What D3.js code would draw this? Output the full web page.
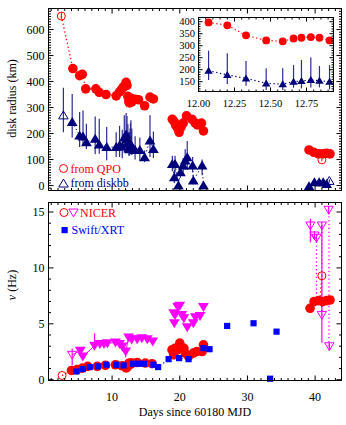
<!DOCTYPE html>
<html><head><meta charset="utf-8">
<script src="https://cdn.jsdelivr.net/npm/d3@7"></script>
<style>
body{margin:0;background:#fff}
svg{display:block}
text{font-family:"Liberation Serif","DejaVu Serif",serif}
</style>
</head><body>
<svg id="c" width="346" height="425"></svg>
<script>
// ---------------- DATA ----------------
// Top panel: disk radius from QPO (filled red circles)
const qpoDays   = [4.2,5.2,5.6,6.1,7.6,8.1,9.1,10.6,11.1,11.4,11.7,13.4,13.9,14.8,15.6,16.1,
                   18.9,19.2,19.4,19.7,19.9,20.2,20.5,21.0,21.8,22.3,22.6,23.2,23.5,
                   39.1,39.8,40.5,41.1,41.7,42.2];
const qpoRadius = [450,423,428,372,372,358,350,345,360,370,380,332,330,307,340,333,
                   255,245,232,220,205,225,240,268,255,240,233,240,210,
                   137,128,122,122,124,122];
const qpoOpenDays = [2.5, 41.0];
const qpoOpenRadius = [652, 99];
const qpoOpenErr = [14, 6];

// Top panel: disk radius from diskbb (filled navy triangles)
const dbbDays   = [4.1,5.2,5.7,6.2,7.5,8.1,9.2,10.6,11.1,11.5,11.8,13.4,14.1,14.8,15.6,16.1,
                   18.9,19.2,19.3,19.8,20.1,20.5,20.8,21.1,21.9,22.0,23.3,23.5,
                   39.1,39.9,40.6,41.2,41.7];
const dbbRadius = [244,193,189,167,180,158,148,148,155,150,185,137,137,109,173,141,
                   83,32,83,0,51,77,96,109,77,19,77,0,
                   -3,13,13,13,6];
const dbbLow    = [185,148,154,141,120,122,97,110,110,105,130,100,95,90,110,106,
                   55,10,50,-5,30,50,60,60,50,5,40,-5,
                   -6,5,5,5,0];
const dbbHigh   = [352,283,289,238,266,257,225,205,230,215,270,190,185,135,270,208,
                   115,60,115,10,80,105,140,171,110,40,100,8,
                   3,22,22,22,12];
const dbbOpenDays = [2.8, 42.1];
const dbbOpenRadius = [270, 18];
const dbbOpenLow = [205, 12];
const dbbOpenHigh = [376, 24];

// Inset (day 12.0 - 12.93)
const insetDays   = [12.07,12.20,12.33,12.47,12.585,12.66,12.715,12.78,12.84,12.91];
const insetQpo    = [397,385,343,322,318,330,333,336,333,322];
const insetDbb    = [196,178,164,143,140,150,153,157,154,150];
const insetDbbLow = [157,140,133,115,115,125,122,126,126,118];
const insetDbbHigh= [279,268,236,206,206,219,240,251,215,219];

// Bottom panel: NICER QPO frequency (filled red circles)
const nicerDays = [4.0,4.8,5.6,6.4,7.8,9.0,10.5,11.5,12.07,12.2,12.33,12.47,12.58,12.66,12.72,12.78,12.84,12.91,13.7,14.9,15.9,
                   18.85,19.1,19.3,19.6,20.0,20.1,20.6,20.8,21.3,22.0,22.5,23.3,23.5,
                   39.25,39.84,40.5,41.1,41.7,42.2];
const nicerNu   = [0.83,0.9,1.04,1.19,1.19,1.28,1.34,1.25,1.05,1.1,1.3,1.45,1.5,1.45,1.42,1.42,1.45,1.5,1.54,1.49,1.43,
                   2.67,2.23,2.82,2.67,3.27,2.97,2.82,2.38,2.08,2.38,2.52,2.52,3.12,
                   6.39,6.98,7.07,6.98,7.07,7.13];
const nicerOpenDays = [2.6, 41.0];
const nicerOpenNu   = [0.38, 9.3];

// Bottom panel: Swift/XRT (blue squares)
const swiftDays = [4.73,5.67,6.7,7.9,9.16,10.6,11.7,13.1,13.9,14.7,16.1,16.8,18.35,19.9,21.3,23.5,24.4,27.0,30.9,33.35,34.3];
const swiftNu   = [0.74,0.95,1.13,1.19,1.34,1.34,1.28,1.43,1.43,1.43,1.34,1.13,1.84,1.93,1.84,2.82,2.73,4.81,5.05,0.09,4.3];

// Bottom panel: NICER second QPO (filled magenta down-triangles)
const hfDays = [5.3,5.67,7.4,8.2,8.8,9.3,10.5,11.1,11.5,12.0,12.45,12.9,13.7,14.4,15.2,16.0,
                19.1,19.2,19.3,19.7,19.8,20.0,20.3,20.6,21.1,22.0,22.3,23.0,23.5];
const hfNu   = [2.6,2.08,3.03,3.2,3.2,3.27,3.33,3.2,2.97,2.52,3.77,3.6,3.63,3.71,3.63,3.41,
                5.94,5.05,5.79,6.5,6.53,6.62,5.79,5.5,4.7,5.05,5.58,5.7,6.5];
const hfLow  = [2.6,2.08,3.03,3.2,3.2,3.27,3.33,3.2,2.97,2.0,3.77,3.6,3.63,3.71,3.63,3.41,
                5.94,5.05,5.79,6.5,6.53,6.62,5.79,5.5,4.7,5.05,5.58,5.7,6.5];
const hfHigh = [2.6,2.08,4.15,3.2,3.2,3.27,3.33,3.2,2.97,2.52,3.77,3.6,3.63,3.71,3.63,3.41,
                5.94,5.05,5.79,6.5,6.53,6.62,5.79,5.5,4.7,5.05,5.58,5.7,6.5];
// open magenta triangles
const hoDays = [4.1,39.3,39.9,40.2,41.0,41.0,42.0,42.1];
const hoNu   = [2.23,13.8,12.9,12.7,13.8,5.8,15.2,3.0];
const hoLow  = [1.3,12.3,12.6,12.4,13.5,3.3,14.8,2.6];
const hoHigh = [2.8,14.4,13.3,13.0,14.1,13.8,15.5,3.3];
// dotted magenta connectors (late epoch)
const linkDays = [40.2,41.0,42.05];
const linkTop  = [12.7,13.8,15.2];
const linkBot  = [7.0,5.8,3.0];

// Tick labels
const topYTicks = [0,100,200,300,400,500,600];
const botYTicks = [0,5,10,15];
const xTicks = [10,20,30,40];
const insetXTicks = ["12.00","12.25","12.50","12.75"];
const insetYTicks = [150,200,250,300,350,400];

// ---------------- DRAW ----------------
const RED="#ff0000", NAVY="#00007a", BLUE="#0000ff", MAG="#ff00ff";
const svg = d3.select('#c');
svg.append('rect').attr('width',346).attr('height',425).attr('fill','#fff');

const x  = d3.scaleLinear().domain([0.6,43.9]).range([48.5,341.5]);
const yT = d3.scaleLinear().domain([-19,681]).range([190.5,8.5]);
const yB = d3.scaleLinear().domain([-0.07,15.85]).range([380.5,202.5]);
const xi = d3.scaleLinear().domain([12.0,12.9375]).range([198.5,333.5]);
const yi = d3.scaleLinear().domain([109,417.5]).range([91.5,17.5]);

function frame(g,xs,ys,xMaj,xMinStep,yMaj,yMinStep,majLen,minLen){
  const [x0,x1]=xs.range(), [y0,y1]=ys.range();
  const p=d3.path();
  const xd=xs.domain(), yd=ys.domain();
  d3.range(Math.ceil(xd[0]/xMinStep)*xMinStep, xd[1]+1e-9, xMinStep).forEach(v=>{
    const px=xs(v); const isMaj=xMaj.some(m=>Math.abs(m-v)<1e-6); const L=isMaj?majLen:minLen;
    p.moveTo(px,y0);p.lineTo(px,y0-L);p.moveTo(px,y1);p.lineTo(px,y1+L);});
  d3.range(Math.ceil(yd[0]/yMinStep)*yMinStep, yd[1]+1e-9, yMinStep).forEach(v=>{
    const py=ys(v); const isMaj=yMaj.some(m=>Math.abs(m-v)<1e-6); const L=isMaj?majLen:minLen;
    p.moveTo(x0,py);p.lineTo(x0+L,py);p.moveTo(x1,py);p.lineTo(x1-L,py);});
  g.append('path').attr('d',p.toString()).attr('stroke','#000').attr('stroke-width',1).attr('fill','none');
  g.append('rect').attr('x',x0).attr('y',y1).attr('width',x1-x0).attr('height',y0-y1)
    .attr('fill','none').attr('stroke','#000').attr('stroke-width',1);
}
function triUp(cx,cy,s){return `M${cx},${cy-s}L${cx+s*1.08},${cy+s*0.8}L${cx-s*1.08},${cy+s*0.8}Z`;}
function triDown(cx,cy,s){return `M${cx},${cy+s}L${cx+s*1.08},${cy-s*0.8}L${cx-s*1.08},${cy-s*0.8}Z`;}
function clusters(days){
  const out=[]; let cur=[];
  days.map((d,i)=>[d,i]).sort((a,b)=>a[0]-b[0]).forEach(([d,i],k,arr)=>{
    if(cur.length && d-arr[k-1][0]>2){out.push(cur);cur=[];}
    cur.push(i);});
  if(cur.length) out.push(cur); return out;
}
const dotted = "1.3,2.6";
const RC = 4.8, TS = 5.0;

// ===== TOP PANEL =====
const gT = svg.append('g');
const allQD = qpoDays.concat(insetDays), allQR = qpoRadius.concat(insetQpo);
const allBD = dbbDays.concat(insetDays), allBR = dbbRadius.concat(insetDbb);
const allBL = dbbLow.concat(insetDbbLow), allBH = dbbHigh.concat(insetDbbHigh);

const lineT = d3.line().x(d=>x(d[0])).y(d=>yT(d[1]));
{
  const qd = allQD.concat([qpoOpenDays[0]]), qr = allQR.concat([qpoOpenRadius[0]]);
  clusters(qd).forEach(c=>{
    gT.append('path').attr('d',lineT(c.map(i=>[qd[i],qr[i]]))).attr('fill','none')
      .attr('stroke',RED).attr('stroke-width',1.3).attr('stroke-dasharray',dotted);});
  clusters(allBD).forEach(c=>{
    gT.append('path').attr('d',lineT(c.map(i=>[allBD[i],allBR[i]]))).attr('fill','none')
      .attr('stroke',NAVY).attr('stroke-width',1).attr('stroke-dasharray',dotted);});
}
allBD.forEach((d,i)=>{
  gT.append('line').attr('x1',x(d)).attr('x2',x(d)).attr('y1',yT(allBL[i])).attr('y2',yT(allBH[i]))
    .attr('stroke','#2b2b95').attr('stroke-width',1.2);});
dbbOpenDays.forEach((d,i)=>{
  gT.append('line').attr('x1',x(d)).attr('x2',x(d)).attr('y1',yT(dbbOpenLow[i])).attr('y2',yT(dbbOpenHigh[i]))
    .attr('stroke','#2b2b95').attr('stroke-width',1.2);});
allQD.forEach((d,i)=>{
  gT.append('circle').attr('cx',x(d)).attr('cy',yT(allQR[i])).attr('r',RC).attr('fill',RED);});
qpoOpenDays.forEach((d,i)=>{
  gT.append('line').attr('x1',x(d)).attr('x2',x(d)).attr('y1',yT(qpoOpenRadius[i]-qpoOpenErr[i])).attr('y2',yT(qpoOpenRadius[i]+qpoOpenErr[i]))
    .attr('stroke',RED).attr('stroke-width',1);
  gT.append('circle').attr('cx',x(d)).attr('cy',yT(qpoOpenRadius[i])).attr('r',4).attr('fill','none').attr('stroke',RED).attr('stroke-width',1);});
allBD.forEach((d,i)=>{
  gT.append('path').attr('d',triUp(x(d),yT(allBR[i]),TS)).attr('fill',NAVY);});
dbbOpenDays.forEach((d,i)=>{
  gT.append('path').attr('d',triUp(x(d),yT(dbbOpenRadius[i]),4.4)).attr('fill','none').attr('stroke',NAVY).attr('stroke-width',1);});

frame(gT,x,yT,xTicks,1,topYTicks,10,5,2.5);
topYTicks.forEach(v=>{
  gT.append('text').attr('x',44.5).attr('y',yT(v)+4).attr('text-anchor','end').attr('font-size',12).text(v);});
gT.append('text').attr('transform',`translate(16,98.5) rotate(-90)`)
  .attr('text-anchor','middle').attr('font-size',12).text('disk radius (km)');

gT.append('circle').attr('cx',63.5).attr('cy',168.5).attr('r',4).attr('fill','none').attr('stroke',RED);
gT.append('text').attr('x',70.5).attr('y',172.5).attr('font-size',12).attr('fill',RED).text('from QPO');
gT.append('path').attr('d',triUp(63.5,183.5,4.4)).attr('fill','none').attr('stroke',NAVY);
gT.append('text').attr('x',70.5).attr('y',186.5).attr('font-size',12).attr('fill',NAVY).text('from diskbb');

// ===== INSET =====
const gI = svg.append('g');
gI.append('rect').attr('x',xi.range()[0]).attr('y',yi.range()[1]).attr('width',xi.range()[1]-xi.range()[0])
  .attr('height',yi.range()[0]-yi.range()[1]).attr('fill','#fff');
const lineI = d3.line().x(d=>xi(d[0])).y(d=>yi(d[1]));
gI.append('path').attr('d',lineI(insetDays.map((d,i)=>[d,insetQpo[i]]))).attr('fill','none')
  .attr('stroke',RED).attr('stroke-width',1.2).attr('stroke-dasharray',dotted);
gI.append('path').attr('d',lineI(insetDays.map((d,i)=>[d,insetDbb[i]]))).attr('fill','none')
  .attr('stroke',NAVY).attr('stroke-width',1.2).attr('stroke-dasharray',dotted);
insetDays.forEach((d,i)=>{
  gI.append('line').attr('x1',xi(d)).attr('x2',xi(d)).attr('y1',yi(insetDbbLow[i])).attr('y2',yi(insetDbbHigh[i]))
    .attr('stroke','#2b2b95').attr('stroke-width',1.2);});
insetDays.forEach((d,i)=>{
  gI.append('circle').attr('cx',xi(d)).attr('cy',yi(insetQpo[i])).attr('r',3.9).attr('fill',RED);
  gI.append('path').attr('d',triUp(xi(d),yi(insetDbb[i]),3.9)).attr('fill',NAVY);});
frame(gI,xi,yi,insetXTicks.map(Number),0.05,insetYTicks,10,4,2);
insetXTicks.forEach(t=>{
  gI.append('text').attr('x',xi(+t)).attr('y',107).attr('text-anchor','middle').attr('font-size',10.5).text(t);});
insetYTicks.forEach(v=>{
  gI.append('text').attr('x',195).attr('y',yi(v)+3.5).attr('text-anchor','end').attr('font-size',10.5).text(v);});

// ===== BOTTOM PANEL =====
const gB = svg.append('g');
const lineB = d3.line().x(d=>x(d[0])).y(d=>yB(d[1]));
{
  const nd = nicerDays.concat([nicerOpenDays[0]]), nn = nicerNu.concat([nicerOpenNu[0]]);
  clusters(nd).forEach(c=>{
    gB.append('path').attr('d',lineB(c.map(i=>[nd[i],nn[i]]))).attr('fill','none')
      .attr('stroke',RED).attr('stroke-width',1.3).attr('stroke-dasharray',dotted);});
  gB.append('path').attr('d',lineB([[nicerOpenDays[1],nicerOpenNu[1]],[nicerOpenDays[1]-0.3,nicerNu[nicerNu.length-4]]]))
    .attr('fill','none').attr('stroke',RED).attr('stroke-width',1.3).attr('stroke-dasharray',dotted);
}
{
  const idx = swiftDays.map((d,i)=>i).filter(i=>swiftDays[i]<25);
  gB.append('path').attr('d',lineB(idx.map(i=>[swiftDays[i],swiftNu[i]]))).attr('fill','none')
    .attr('stroke',BLUE).attr('stroke-width',1.2).attr('stroke-dasharray',dotted);
}
{
  const idx = hfDays.map((d,i)=>i).filter(i=>hfDays[i]<17);
  gB.append('path').attr('d',lineB([[hoDays[0],hoNu[0]]].concat(idx.map(i=>[hfDays[i],hfNu[i]])))).attr('fill','none')
    .attr('stroke',MAG).attr('stroke-width',1);
  hfDays.forEach((d,i)=>{ if(hfHigh[i]-hfLow[i]>0.01)
    gB.append('line').attr('x1',x(d)).attr('x2',x(d)).attr('y1',yB(hfLow[i])).attr('y2',yB(hfHigh[i]))
      .attr('stroke',MAG).attr('stroke-width',1.2);});
  hoDays.forEach((d,i)=>{
    gB.append('line').attr('x1',x(d)).attr('x2',x(d)).attr('y1',yB(hoLow[i])).attr('y2',yB(hoHigh[i]))
      .attr('stroke',MAG).attr('stroke-width',1.2);});
  linkDays.forEach((d,i)=>{
    gB.append('line').attr('x1',x(d)).attr('x2',x(d)).attr('y1',yB(linkBot[i])).attr('y2',yB(linkTop[i]))
      .attr('stroke',MAG).attr('stroke-width',1.3).attr('stroke-dasharray',dotted);});
}
hfDays.forEach((d,i)=>{
  gB.append('path').attr('d',triDown(x(d),yB(hfNu[i]),TS)).attr('fill',MAG);});
hoDays.forEach((d,i)=>{
  gB.append('path').attr('d',triDown(x(d),yB(hoNu[i]),4.3)).attr('fill','none').attr('stroke',MAG).attr('stroke-width',1);});
nicerDays.forEach((d,i)=>{
  gB.append('circle').attr('cx',x(d)).attr('cy',yB(nicerNu[i])).attr('r',RC).attr('fill',RED);});
nicerOpenDays.forEach((d,i)=>{
  gB.append('circle').attr('cx',x(d)).attr('cy',yB(nicerOpenNu[i])).attr('r',4).attr('fill','none').attr('stroke',RED);});
swiftDays.forEach((d,i)=>{
  gB.append('rect').attr('x',x(d)-3.1).attr('y',yB(swiftNu[i])-3.1).attr('width',6.2).attr('height',6.2).attr('fill',BLUE);});

frame(gB,x,yB,xTicks,1,botYTicks,1,5,2.5);
botYTicks.forEach(v=>{
  gB.append('text').attr('x',44.5).attr('y',yB(v)+4).attr('text-anchor','end').attr('font-size',12).text(v);});
xTicks.forEach(v=>{
  gB.append('text').attr('x',x(v)).attr('y',400.5).attr('text-anchor','middle').attr('font-size',12).text(v);});
gB.append('text').attr('x',195).attr('y',416).attr('text-anchor','middle').attr('font-size',12).text('Days since 60180 MJD');
{
  const t = gB.append('text').attr('transform',`translate(16,285) rotate(-90)`)
    .attr('text-anchor','middle').attr('font-size',12);
  t.append('tspan').attr('font-style','italic').text('ν');
  t.append('tspan').text(' (Hz)');
}
gB.append('circle').attr('cx',64).attr('cy',212.5).attr('r',4).attr('fill','none').attr('stroke',RED);
gB.append('path').attr('d',triDown(73.5,212.5,4.3)).attr('fill','none').attr('stroke',MAG);
gB.append('text').attr('x',80).attr('y',216.5).attr('font-size',12).attr('fill',RED).text('NICER');
gB.append('rect').attr('x',61.5).attr('y',227).attr('width',6.2).attr('height',6.2).attr('fill',BLUE);
gB.append('text').attr('x',71.5).attr('y',234).attr('font-size',12).attr('fill',BLUE).text('Swift/XRT');
</script>
</body></html>
